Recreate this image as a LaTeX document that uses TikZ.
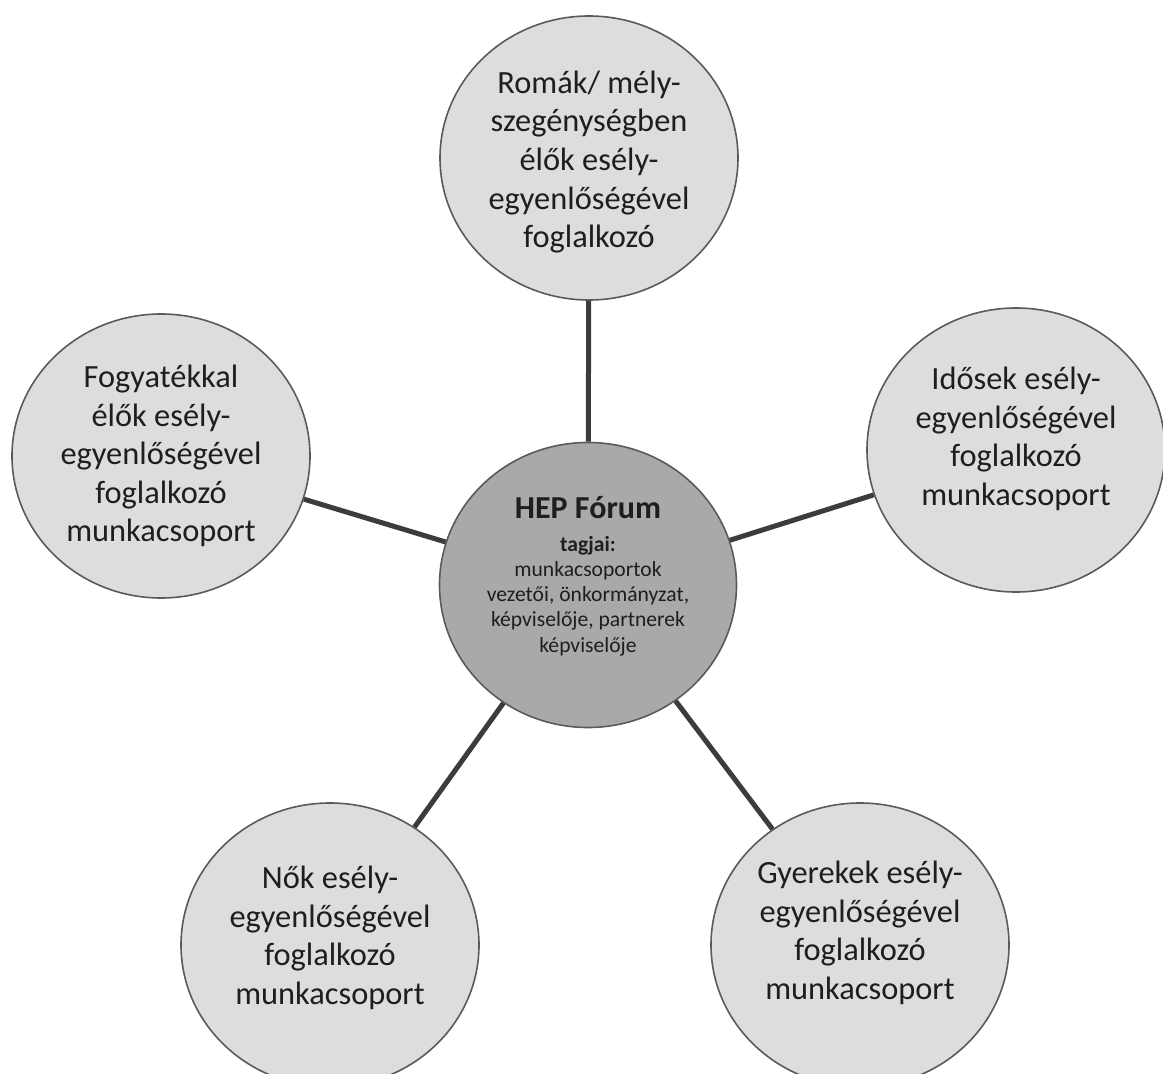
\documentclass[tikz,border=0pt]{standalone}
\usepackage{fontspec}
\setmainfont{Carlito}
\usetikzlibrary{shapes.geometric}
\definecolor{outerfill}{HTML}{DDDDDD}
\definecolor{innerfill}{HTML}{A9A9A9}
\definecolor{rimcol}{HTML}{5A5A5A}
\definecolor{linkcol}{HTML}{3C3C3C}
\definecolor{txtcol}{HTML}{1E1E1E}
\tikzset{
  groupbubble/.style={ellipse, draw=rimcol, line width=0.8pt, fill=outerfill,
    minimum width=149pt, minimum height=142pt, inner sep=0pt},
  forumbubble/.style={ellipse, draw=rimcol, line width=0.8pt, fill=innerfill,
    minimum width=148.5pt, minimum height=142.5pt, inner sep=0pt},
  grouptext/.style={align=center, inner sep=0pt, text=txtcol,
    font=\fontsize{16.2}{19.3}\selectfont},
  forumtext/.style={align=center, inner sep=0pt, text=txtcol,
    font=\fontsize{10.8}{12.6}\selectfont},
  link/.style={draw=linkcol, line width=2.5pt}
}
\begin{document}
\begin{tikzpicture}[x=0.5pt,y=-0.5pt]
\useasboundingbox (0,0) rectangle (1163,1074);
\node[forumbubble] (hub) at (588,585) {};
\node[groupbubble] (roma) at (589,158) {};
\node[groupbubble] (fogy) at (161,456) {};
\node[groupbubble] (idos) at (1016,450) {};
\node[groupbubble] (nok) at (330,945) {};
\node[groupbubble] (gyer) at (860,945) {};
\node[forumtext] (hubtext) at (588,576) {{\fontsize{16}{18}\selectfont\bfseries HEP Fórum}\\[4pt]
  \textbf{tagjai:}\\munkacsoportok\\vezetői, önkormányzat,\\képviselője, partnerek\\képviselője};
\node[grouptext] (romatext) at (589,162) {Romák/ mély-\\szegénységben\\élők esély-\\egyenlőségével\\foglalkozó};
\node[grouptext] (fogytext) at (161,456) {Fogyatékkal\\élők esély-\\egyenlőségével\\foglalkozó\\munkacsoport};
\node[grouptext] (idostext) at (1016,439) {Idősek esély-\\egyenlőségével\\foglalkozó\\munkacsoport};
\node[grouptext] (noktext) at (330,938) {Nők esély-\\egyenlőségével\\foglalkozó\\munkacsoport};
\node[grouptext] (gyertext) at (860,933) {Gyerekek esély-\\egyenlőségével\\foglalkozó\\munkacsoport};
\draw[link] (hub) -- (roma);
\draw[link] (hub) -- (fogy);
\draw[link] (hub) -- (idos);
\draw[link] (hub) -- (nok);
\draw[link] (hub) -- (gyer);
\end{tikzpicture}
\end{document}
